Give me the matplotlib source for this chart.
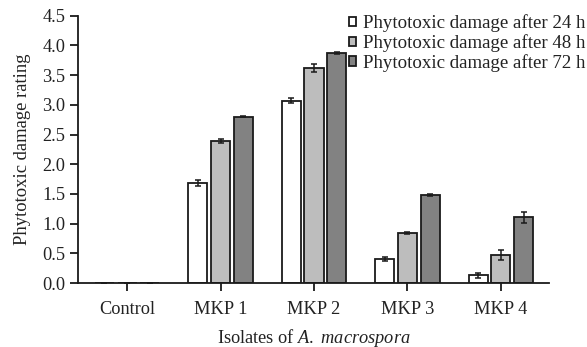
import numpy as np
import matplotlib
matplotlib.use('Agg')
import matplotlib.pyplot as plt

plt.rcParams['font.family'] = ['Liberation Serif', 'DejaVu Serif']
plt.rcParams['mathtext.fontset'] = 'custom'
plt.rcParams['mathtext.it'] = 'Liberation Serif:italic'
plt.rcParams['mathtext.rm'] = 'Liberation Serif'

# isolates and damage ratings
isolates = ['Control', 'MKP 1', 'MKP 2', 'MKP 3', 'MKP 4']
labels = ['Phytotoxic damage after 24 h',
          'Phytotoxic damage after 48 h',
          'Phytotoxic damage after 72 h']
damage_24h = [0.0, 1.68, 3.07, 0.41, 0.13]
damage_48h = [0.0, 2.39, 3.62, 0.84, 0.47]
damage_72h = [0.0, 2.80, 3.87, 1.48, 1.11]
err_24h = [0.0, 0.05, 0.04, 0.03, 0.04]
err_48h = [0.0, 0.03, 0.06, 0.02, 0.08]
err_72h = [0.0, 0.01, 0.01, 0.02, 0.09]

colors = ['white', '#bdbdbd', '#828282']

fig = plt.figure(figsize=(5.87, 3.47), dpi=100)
ax = fig.add_axes([0.133, 0.184, 0.802, 0.771])

x = np.arange(len(isolates))
step = 0.242
width = 0.204
series = [(damage_24h, err_24h), (damage_48h, err_48h), (damage_72h, err_72h)]
for i, (vals, errs) in enumerate(series):
    ax.bar(x + (i - 1) * step, vals, width=width, color=colors[i],
           edgecolor='#1a1a1a', linewidth=1.3, label=labels[i],
           yerr=errs, capsize=2.2,
           error_kw=dict(ecolor='#1a1a1a', elinewidth=1.1, capthick=1.1))

ax.set_xlim(-0.524, 4.513)
ax.set_ylim(0, 4.5)
ax.set_yticks(np.arange(0, 4.51, 0.5))
ax.set_yticklabels(['%.1f' % v for v in np.arange(0, 4.51, 0.5)])
ax.set_xticks(x)
ax.set_xticklabels(isolates)

for s in ['top', 'right']:
    ax.spines[s].set_visible(False)
for s in ['left', 'bottom']:
    ax.spines[s].set_linewidth(1.3)
    ax.spines[s].set_color('#1a1a1a')

ax.tick_params(axis='both', direction='out', length=6, width=1.3,
               colors='#1a1a1a', labelsize=13.2, labelcolor='#222222')
ax.tick_params(axis='x', pad=7)
ax.tick_params(axis='y', pad=3)

ax.set_ylabel('Phytotoxic damage rating', fontsize=13.4, color='#222222', labelpad=8)
ax.set_xlabel('Isolates of $\\it{A.}$ $\\it{macrospora}$', fontsize=13.2,
              color='#222222', labelpad=6)

leg = ax.legend(loc='upper right', bbox_to_anchor=(0.998, 0.958),
                bbox_transform=fig.transFigure, frameon=False,
                fontsize=13.6, handlelength=0.4, handleheight=0.4,
                handletextpad=0.37, labelspacing=0.1, borderpad=0,
                borderaxespad=0)
for t in leg.get_texts():
    t.set_color('#222222')

fig.savefig('out.png', dpi=100)
